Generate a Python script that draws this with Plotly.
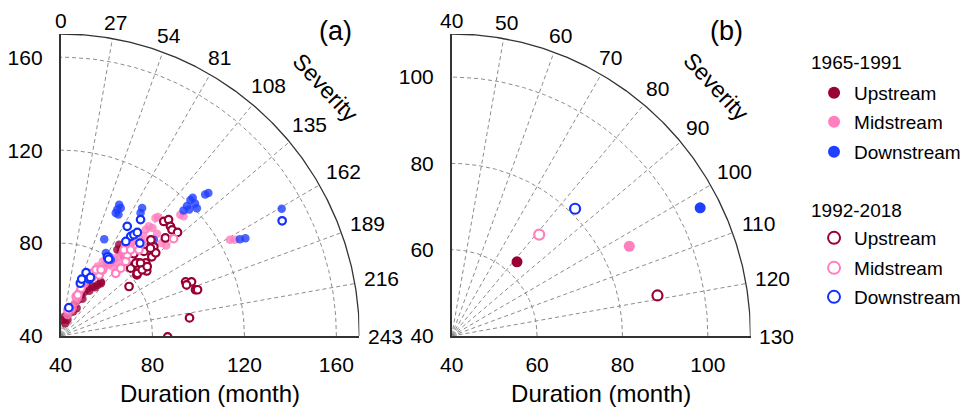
import numpy as np
import plotly.graph_objects as go

# ---------------- data: panel (a) ----------------
a_up_old_x = [41.0, 41.7, 43.2, 44.6, 46.0, 47.5, 48.9, 50.4, 51.8, 54.0, 56.1, 57.6, 42.0, 43.0, 45.5, 47.0,
              49.5, 52.5, 55.0, 57.5, 64.7, 65.5, 66.2, 66.9, 67.6, 68.3, 69.0, 62.0, 60.5]
a_up_old_y = [46.9, 48.3, 49.8, 51.2, 53.4, 55.5, 57.7, 59.1, 60.6, 61.3, 62.0, 62.7, 45.5, 47.0, 50.5, 52.0,
              56.0, 59.5, 61.0, 63.4, 77.1, 79.3, 76.4, 77.8, 74.2, 75.5, 72.8, 72.0, 71.5]

a_mid_old_x = [43.0, 44.5, 45.3, 46.5, 47.5, 48.2, 49.6, 50.5, 51.8, 53.0, 54.0, 55.5, 56.1, 58.3, 60.0, 61.5,
               62.6, 64.7, 66.9, 68.0, 69.8, 72.7, 75.5, 77.7, 79.0, 80.5, 81.3, 82.4, 84.0, 86.0, 78.4, 77.0,
               92.1, 93.5, 113.7, 115.8, 70.5, 74.0, 82.0, 63.5, 65.5, 71.5, 76.0, 80.0]
a_mid_old_y = [49.0, 51.0, 52.0, 54.5, 56.3, 59.1, 62.0, 62.5, 64.2, 65.0, 66.3, 68.0, 69.9, 72.1, 70.5, 71.0,
               69.9, 71.4, 75.7, 79.0, 77.8, 77.8, 78.5, 79.3, 76.0, 78.0, 90.8, 91.2, 80.0, 79.0, 87.2, 85.7,
               92.2, 91.5, 81.4, 81.4, 80.5, 82.0, 84.0, 73.5, 74.0, 80.0, 83.0, 86.5]

a_down_old_x = [65.5, 66.2, 64.7, 64.0, 65.2, 75.5, 74.8, 59.0, 59.7, 61.1, 61.9, 60.4, 80.6, 93.5, 95.0, 96.5,
                97.5, 98.5, 99.3, 96.0, 102.9, 104.3, 136.2, 118.0, 120.4]
a_down_old_y = [96.5, 95.1, 94.4, 93.0, 92.3, 95.1, 93.0, 81.7, 75.7, 74.2, 72.8, 73.5, 81.4, 94.0, 96.0, 98.5,
                99.5, 97.0, 95.0, 94.5, 100.9, 101.6, 94.8, 81.7, 82.1]

a_up_new_x = [84.9, 87.0, 87.8, 88.5, 90.9, 85.6, 80.6, 79.7, 81.4, 79.3, 77.1, 77.1, 77.5, 74.1, 73.2, 74.1,
              71.1, 71.1, 69.8, 71.9, 70.5, 72.7, 74.8, 73.4, 75.5, 77.7, 76.3, 79.1, 69.8, 94.4, 97.0, 94.8,
              98.7, 99.6, 96.1, 86.6]
a_up_new_y = [89.3, 90.1, 87.2, 85.7, 84.6, 82.2, 78.4, 74.1, 75.8, 81.4, 78.0, 71.5, 68.0, 71.5, 66.3, 69.3,
              69.8, 72.8, 75.8, 75.4, 69.2, 71.4, 71.4, 67.0, 68.5, 69.9, 76.4, 77.8, 61.3, 63.3, 63.3, 62.0,
              59.9, 59.9, 47.8, 39.6]

a_mid_new_x = [43.2, 46.8, 48.9, 53.9, 56.8, 58.3, 64.0, 66.2, 68.4, 69.0, 67.6, 70.5, 73.4, 75.5, 74.1, 89.2,
               47.5, 53.2, 55.4, 57.6]
a_mid_new_y = [51.2, 57.0, 60.6, 65.6, 66.3, 68.5, 67.0, 69.2, 72.1, 75.0, 77.1, 77.1, 78.5, 80.0, 77.1, 81.9,
               57.7, 67.0, 68.5, 68.5]

a_down_new_x = [43.6, 48.6, 49.2, 51.1, 52.5, 53.0, 60.4, 60.9, 69.0, 70.5, 71.9, 73.4, 74.5, 68.4, 74.8, 136.4]
a_down_new_y = [52.2, 62.7, 64.5, 67.3, 64.5, 65.2, 74.0, 73.1, 87.2, 82.9, 83.6, 84.6, 80.0, 80.7, 90.1, 89.6]

# ---------------- data: panel (b) ----------------
b_x = {"up_old": [55.3], "mid_old": [81.6], "down_old": [98.2],
       "up_new": [88.2], "mid_new": [60.5], "down_new": [68.9]}
b_y = {"up_old": [57.2], "mid_old": [60.8], "down_old": [69.7],
       "up_new": [49.4], "mid_new": [63.5], "down_new": [69.5]}

# axis / tick settings
a_ticks = [40, 80, 120, 160]
b_ticks = [40, 60, 80, 100]
a_sev_labels = list(range(0, 244, 27))
b_sev_labels = list(range(40, 131, 10))
a_rings = [40, 80, 120]
b_rings = [20, 40, 60]
origin = 40
a_rmax = 130
b_rmax = 70

period_titles = ["1965-1991", "1992-2018"]
reach_names = ["Upstream", "Midstream", "Downstream"]

DR = "#990033"
PK = "#FF7FBF"
BL = "#1F3FFF"
BLO = "#1030FF"
FONT = "Liberation Sans, Arial"

fig = go.Figure()

a_dom_x = [61 / 966, 362 / 966]
b_dom_x = [455 / 966, 756 / 966]
dom_y = [71 / 407, 373 / 407]


def to_paper(x, y, dom_x, rmax):
    px = dom_x[0] + (x - origin) / rmax * (dom_x[1] - dom_x[0])
    py = dom_y[0] + (y - origin) / rmax * (dom_y[1] - dom_y[0])
    return px, py


def frame(xa, ya, rmax, rings, sev_labels, ppu, dom_x):
    grid = dict(color="#8c8c8c", width=1, dash="4px,3px")
    th = np.linspace(0, np.pi / 2, 200)
    for r in rings:
        fig.add_trace(go.Scatter(x=origin + r * np.cos(th), y=origin + r * np.sin(th), mode="lines",
                                 line=grid, xaxis=xa, yaxis=ya, showlegend=False, hoverinfo="skip"))
    n = len(sev_labels) - 1
    for k in range(1, n):
        phi = np.deg2rad(90 - 90 * k / n)
        fig.add_trace(go.Scatter(x=[origin, origin + rmax * np.cos(phi)], y=[origin, origin + rmax * np.sin(phi)],
                                 mode="lines", line=grid, xaxis=xa, yaxis=ya, showlegend=False, hoverinfo="skip"))
    # outer arc
    fig.add_trace(go.Scatter(x=origin + rmax * np.cos(th), y=origin + rmax * np.sin(th), mode="lines",
                             line=dict(color="#333333", width=1.3), xaxis=xa, yaxis=ya,
                             showlegend=False, hoverinfo="skip"))
    # tiny gray ring at origin
    rr = 4.5 / ppu
    fig.add_trace(go.Scatter(x=origin + rr * np.cos(th), y=origin + rr * np.sin(th), mode="lines",
                             line=dict(color="#b0b0b0", width=2), xaxis=xa, yaxis=ya,
                             showlegend=False, hoverinfo="skip"))
    # severity labels (paper coordinates so they are not hidden outside the axis range)
    for k, lab in enumerate(sev_labels):
        phi = np.deg2rad(90 - 90 * k / n)
        s = str(lab)
        w = len(s) * 11.7
        h = 15
        off = 6 + abs(np.cos(phi)) * (w / 2 + 3) + abs(np.sin(phi)) * h / 2
        r = rmax + off / ppu
        px, py = to_paper(origin + r * np.cos(phi), origin + r * np.sin(phi), dom_x, rmax)
        fig.add_annotation(x=px, y=py, text=s, showarrow=False, xref="paper", yref="paper",
                           font=dict(size=21, color="black", family=FONT),
                           xanchor="center", yanchor="middle")


frame("x", "y", a_rmax, a_rings, a_sev_labels, 301 / a_rmax, a_dom_x)
frame("x2", "y2", b_rmax, b_rings, b_sev_labels, 301 / b_rmax, b_dom_x)


def pts(x, y, color, filled, size, xa, ya, name, show, legend="legend", alpha=1.0):
    if filled:
        marker = dict(size=size, color=color, opacity=alpha, line=dict(width=0))
    else:
        marker = dict(size=size, color="white", line=dict(color=color, width=2.2))
    fig.add_trace(go.Scatter(x=x, y=y, mode="markers", marker=marker, xaxis=xa, yaxis=ya, name=name,
                             showlegend=show, legend=legend, hoverinfo="skip"))


# panel (a)
pts(a_up_old_x, a_up_old_y, DR, True, 8.5, "x", "y", reach_names[0], False, alpha=0.8)
pts(a_mid_old_x, a_mid_old_y, PK, True, 8.5, "x", "y", reach_names[1], False, alpha=0.8)
pts(a_down_old_x, a_down_old_y, BL, True, 8.5, "x", "y", reach_names[2], False, alpha=0.8)
pts(a_up_new_x, a_up_new_y, DR, False, 7.5, "x", "y", reach_names[0], False)
pts(a_mid_new_x, a_mid_new_y, PK, False, 7.5, "x", "y", reach_names[1], False)
pts(a_down_new_x, a_down_new_y, BLO, False, 7.5, "x", "y", reach_names[2], False)

# panel (b) (these carry the legend: one legend box per entry for exact spacing)
pts(b_x["up_old"], b_y["up_old"], DR, True, 11, "x2", "y2", reach_names[0], True, "legend")
pts(b_x["mid_old"], b_y["mid_old"], PK, True, 11, "x2", "y2", reach_names[1], True, "legend2")
pts(b_x["down_old"], b_y["down_old"], BL, True, 11, "x2", "y2", reach_names[2], True, "legend3")
pts(b_x["up_new"], b_y["up_new"], DR, False, 10, "x2", "y2", reach_names[0], True, "legend4")
pts(b_x["mid_new"], b_y["mid_new"], PK, False, 10, "x2", "y2", reach_names[1], True, "legend5")
pts(b_x["down_new"], b_y["down_new"], BLO, False, 10, "x2", "y2", reach_names[2], True, "legend6")

# panel labels and "Severity"
for (x, y, dom, rmax, txt, size, ang) in [
    (159.6, 171.2, a_dom_x, a_rmax, "(a)", 27, 0),
    (104.3, 110.8, b_dom_x, b_rmax, "(b)", 27, 0),
    (155.5, 146.9, a_dom_x, a_rmax, "Severity", 23, 47),
    (102.0, 97.6, b_dom_x, b_rmax, "Severity", 23, 47),
]:
    px, py = to_paper(x, y, dom, rmax)
    fig.add_annotation(x=px, y=py, xref="paper", yref="paper", text=txt, showarrow=False, textangle=ang,
                       xanchor="center", yanchor="middle",
                       font=dict(size=size, color="black", family=FONT))

# legend group titles
for txt, yc in zip(period_titles, [62, 210]):
    fig.add_annotation(x=815 / 966, y=1 - yc / 407, xref="paper", yref="paper", text=txt, showarrow=False,
                       xanchor="left", yanchor="middle", font=dict(size=19, color="black", family=FONT))

axis_common = dict(showgrid=False, zeroline=False, showline=True, linecolor="#333333", linewidth=1.5,
                   ticks="", tickfont=dict(size=21, color="black", family=FONT), automargin=False,
                   fixedrange=True)

title_font = dict(size=24, family=FONT, color="black")
leg_base = dict(x=820 / 966, xanchor="left", yanchor="middle", font=dict(size=19, family=FONT, color="black"),
                bgcolor="rgba(0,0,0,0)", itemsizing="constant")
row_y = [93, 122, 152, 238, 268, 297]
legends = {}
for i, yc in enumerate(row_y):
    key = "legend" if i == 0 else f"legend{i + 1}"
    legends[key] = dict(leg_base, y=1 - yc / 407)

fig.update_layout(
    width=966, height=407,
    margin=dict(l=0, r=0, t=0, b=0),
    paper_bgcolor="white", plot_bgcolor="white",
    font=dict(family=FONT, color="black"),
    xaxis=dict(domain=a_dom_x, range=[origin, origin + a_rmax], tickvals=a_ticks, anchor="y",
               ticklabelstandoff=9, title=dict(text="Duration (month)", font=title_font, standoff=10),
               **axis_common),
    yaxis=dict(domain=dom_y, range=[origin, origin + a_rmax], tickvals=a_ticks, anchor="x",
               ticklabelstandoff=12, **axis_common),
    xaxis2=dict(domain=b_dom_x, range=[origin, origin + b_rmax], tickvals=b_ticks, anchor="y2",
                ticklabelstandoff=9, title=dict(text="Duration (month)", font=title_font, standoff=10),
                **axis_common),
    yaxis2=dict(domain=dom_y, range=[origin, origin + b_rmax], tickvals=b_ticks, anchor="x2",
                ticklabelstandoff=12, **axis_common),
    showlegend=True,
    **legends,
)

fig.write_html("out.html", config={"displayModeBar": False},
               post_script="document.body.style.margin='0px';document.body.style.overflow='hidden';")
